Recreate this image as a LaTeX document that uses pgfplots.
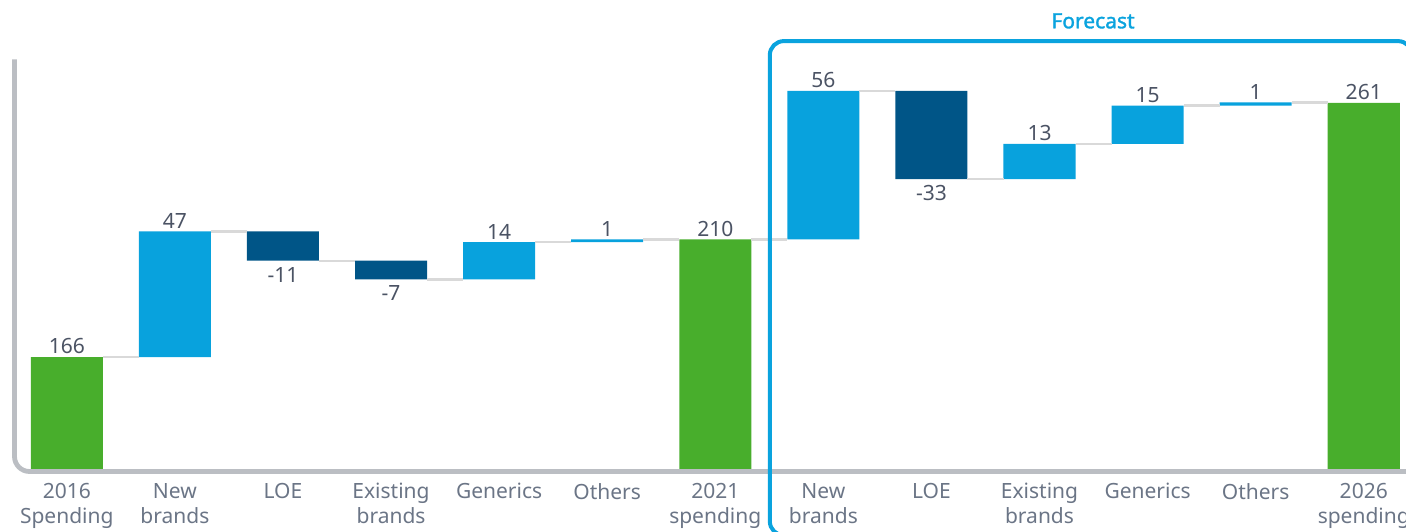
\documentclass[border=0pt]{standalone}
\usepackage{fontspec}
\setmainfont{Noto Sans}
\newfontfamily\semibold{Noto Sans}[FakeBold=1.6]
\usepackage{pgfplots}
\usepackage{pgfplotstable}
\pgfplotsset{compat=1.18}

\definecolor{wfgreen}{HTML}{48AE2C}
\definecolor{wflight}{HTML}{08A2DD}
\definecolor{wfdark}{HTML}{005587}
\definecolor{numtext}{HTML}{4B5364}
\definecolor{ticktext}{HTML}{6B7586}
\definecolor{framegray}{HTML}{BBBEC3}
\definecolor{connector}{HTML}{D9D9D9}
\definecolor{fcblue}{HTML}{0AA3DE}

% x: category index, base: invisible offset, then one column per bar colour
\pgfplotstableread{
x base total up down
0  0     166 0    0
1  166   0   47   0
2  202   0   0    11
3  195   0   0    7
4  195   0   14   0
5  209   0   1    0
6  0     210 0    0
7  210   0   55.5 0
8  232.5 0   0    33
9  232.5 0   13.2 0
10 245.7 0   14.3 0
11 260   0   1.2  0
12 0     261 0    0
}\bars

\begin{document}
\begin{tikzpicture}
\pgfplotsset{wf/.style={
    scale only axis,
    width=703pt, height=234.65pt,
    xmin=-0.618, xmax=12.391,
    ymin=124, ymax=299.52,
    axis line style={draw=none},
    ytick=\empty,
    major tick length=0pt,
}}
\begin{axis}[
    wf, name=ax,
    ybar stacked,
    bar width=0.6667,
    xtick={0,...,12},
    xticklabels={{2016\\Spending},{New\\brands},{LOE},{Existing\\brands},{Generics},{Others},{2021\\spending},{New\\brands},{LOE},{Existing\\brands},{Generics},{Others},{2026\\spending}},
    xticklabel style={align=center, text=ticktext, font=\fontsize{10.5}{12.5}\selectfont, anchor=north, yshift=-3.5pt},
]
\addplot[draw=none, fill=none] table[x=x, y=base] {\bars};
\addplot[draw=none, fill=wfgreen] table[x=x, y=total] {\bars};
\addplot[draw=none, fill=wflight] table[x=x, y=up] {\bars};
\addplot[draw=none, fill=wfdark] table[x=x, y=down] {\bars};
\end{axis}

\begin{axis}[wf, xtick=\empty, unbounded coords=jump]
% connector lines between bars
\addplot[connector, line width=1.2pt, mark=none] coordinates {
    (0.333,166) (0.667,166) (1,nan)
    (1.333,213) (1.667,213) (2,nan)
    (2.333,202) (2.667,202) (3,nan)
    (3.333,195) (3.667,195) (4,nan)
    (4.333,209) (4.667,209) (5,nan)
    (5.333,210) (5.667,210) (6,nan)
    (6.333,210) (6.667,210) (7,nan)
    (7.333,265.5) (7.667,265.5) (8,nan)
    (8.333,232.5) (8.667,232.5) (9,nan)
    (9.333,245.7) (9.667,245.7) (10,nan)
    (10.333,260) (10.667,260) (11,nan)
    (11.333,261.2) (11.667,261.2)
};
% value labels above
\addplot[draw=none, mark=none, point meta=explicit symbolic, nodes near coords,
    nodes near coords style={anchor=south, inner sep=0pt, yshift=1.2pt, text=numtext, font=\fontsize{10.5}{12.5}\selectfont}]
    coordinates {
    (0,166)[166] (1,213)[47] (4,209)[14] (5,210)[1] (6,210)[210]
    (7,265.5)[56] (9,245.7)[13] (10,260)[15] (11,261.2)[1] (12,261)[261]
};
% value labels below
\addplot[draw=none, mark=none, point meta=explicit symbolic, nodes near coords,
    nodes near coords style={anchor=north, inner sep=0pt, yshift=-3pt, text=numtext, font=\fontsize{10.5}{12.5}\selectfont}]
    coordinates {
    (2,202)[-11] (3,195)[-7] (8,232.5)[-33]
};
\end{axis}

% frames
\draw[framegray, line width=2.4pt, rounded corners=7.5pt]
    ([shift={(7.25pt,205pt)}]ax.south west) -- ([shift={(7.25pt,-1.1pt)}]ax.south west) -- ([shift={(712pt,-1.1pt)}]ax.south west);
\draw[fcblue, line width=2pt, rounded corners=7pt]
    ([shift={(712pt,-33pt)}]ax.south west) -- ([shift={(384.9pt,-33pt)}]ax.south west)
    -- ([shift={(384.9pt,214.1pt)}]ax.south west) -- ([shift={(706pt,214.1pt)}]ax.south west)
    -- ([shift={(706pt,-33pt)}]ax.south west);
\node[anchor=base, text=fcblue, font=\fontsize{10.5}{12.5}\selectfont\semibold]
    at ([shift={(546.5pt,220.5pt)}]ax.south west) {Forecast};

\pgfresetboundingbox
\path[use as bounding box] ([shift={(0pt,-30.85pt)}]ax.south west) rectangle (ax.north east);
\end{tikzpicture}
\end{document}
